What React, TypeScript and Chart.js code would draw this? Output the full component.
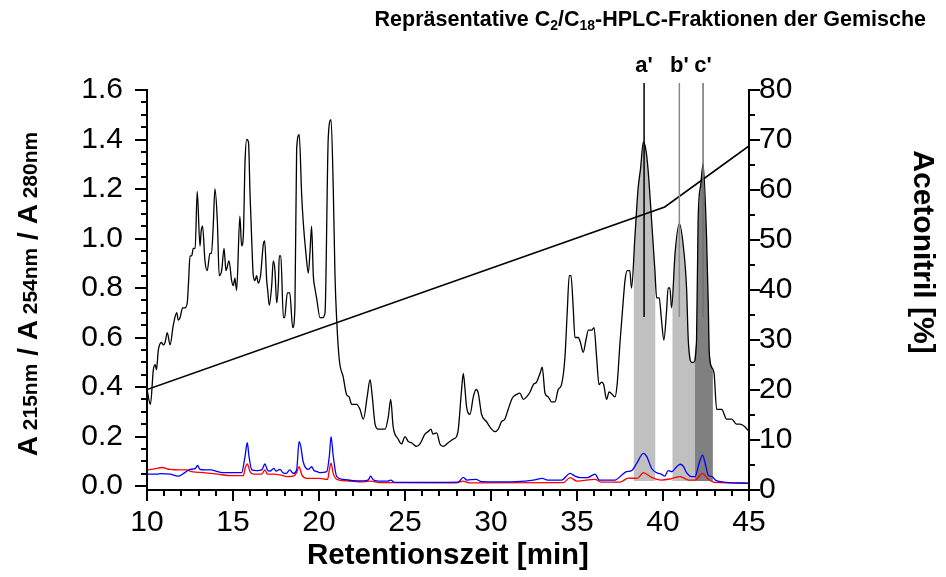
import React, { useEffect, useRef } from 'react';
import { Chart, registerables } from 'chart.js';

Chart.register(...registerables);

// ---------- data ----------
const xTickValues = [10, 15, 20, 25, 30, 35, 40, 45];
const yTickValues = [0, 0.2, 0.4, 0.6, 0.8, 1.0, 1.2, 1.4, 1.6];
const y2TickValues = [0, 10, 20, 30, 40, 50, 60, 70, 80];

// A215 (black) [time min, absorbance]
const a215: [number, number][] = [
  [10.0, 0.39], [10.2, 0.33], [10.37, 0.47], [10.48, 0.49], [10.55, 0.47], [10.66, 0.55], [10.85, 0.58],
  [10.95, 0.57], [11.05, 0.58], [11.18, 0.62], [11.34, 0.57], [11.53, 0.65], [11.73, 0.7], [11.82, 0.67],
  [11.92, 0.68], [12.07, 0.72], [12.2, 0.72], [12.34, 0.74], [12.42, 0.83], [12.5, 0.93], [12.6, 0.93],
  [12.69, 0.96], [12.8, 0.96], [12.92, 1.19], [13.08, 0.97], [13.15, 1.03], [13.23, 1.05], [13.37, 0.91],
  [13.5, 0.87], [13.66, 0.94], [13.75, 0.94], [13.85, 1.05], [13.95, 1.2], [14.09, 1.07], [14.2, 0.85],
  [14.34, 0.87], [14.48, 0.96], [14.59, 0.87], [14.77, 0.91], [14.92, 0.83], [15.02, 0.81], [15.11, 0.84],
  [15.21, 0.79], [15.4, 1.09], [15.5, 0.97], [15.6, 1.01], [15.7, 1.31], [15.8, 1.4], [15.9, 1.39],
  [15.99, 1.18], [16.09, 0.99], [16.18, 0.85], [16.28, 0.83], [16.37, 0.85], [16.47, 0.82], [16.6, 0.85],
  [16.77, 0.98], [16.84, 0.99], [16.96, 0.83], [17.02, 0.79], [17.11, 0.73], [17.25, 0.81], [17.34, 0.91],
  [17.44, 0.87], [17.54, 0.74], [17.64, 0.82], [17.69, 0.93], [17.78, 0.93], [17.93, 0.68], [18.0, 0.68],
  [18.16, 0.78], [18.3, 0.78], [18.47, 0.64], [18.6, 0.72], [18.7, 1.36], [18.85, 1.42], [18.99, 1.18],
  [19.08, 1.07], [19.24, 0.94], [19.38, 0.86], [19.48, 0.95], [19.57, 1.05], [19.67, 0.85], [19.76, 0.8],
  [19.86, 0.76], [20.06, 0.68], [20.2, 0.68], [20.35, 0.7], [20.54, 1.41], [20.7, 1.48], [20.83, 1.2],
  [20.93, 0.85], [21.03, 0.67], [21.18, 0.51], [21.41, 0.44], [21.6, 0.37], [21.75, 0.36], [21.9, 0.33],
  [22.19, 0.33], [22.38, 0.31], [22.58, 0.27], [22.8, 0.36], [22.97, 0.43], [23.1, 0.36], [23.26, 0.25],
  [23.44, 0.23], [23.84, 0.23], [24.03, 0.28], [24.17, 0.35], [24.31, 0.24], [24.6, 0.19], [24.8, 0.17],
  [25.0, 0.2], [25.19, 0.18], [25.38, 0.175], [25.68, 0.16], [25.87, 0.17], [26.16, 0.21], [26.35, 0.22],
  [26.51, 0.23], [26.62, 0.21], [26.84, 0.215], [27.03, 0.17], [27.22, 0.16], [27.51, 0.175], [27.81, 0.19],
  [28.0, 0.2], [28.1, 0.23], [28.29, 0.39], [28.39, 0.455], [28.49, 0.39], [28.58, 0.32], [28.78, 0.29],
  [28.97, 0.36], [29.13, 0.39], [29.26, 0.375], [29.45, 0.29], [29.74, 0.26], [30.03, 0.23], [30.23, 0.22],
  [30.42, 0.23], [30.61, 0.26], [30.8, 0.27], [31.0, 0.31], [31.2, 0.35], [31.29, 0.36], [31.49, 0.37],
  [31.68, 0.375], [31.88, 0.35], [32.07, 0.36], [32.27, 0.38], [32.46, 0.41], [32.65, 0.42], [32.85, 0.455],
  [32.98, 0.48], [33.14, 0.375], [33.33, 0.36], [33.52, 0.34], [33.72, 0.34], [33.91, 0.39], [34.1, 0.41],
  [34.3, 0.52], [34.43, 0.7], [34.55, 0.85], [34.65, 0.85], [34.78, 0.72], [34.88, 0.6], [35.07, 0.6],
  [35.2, 0.58], [35.36, 0.54], [35.52, 0.59], [35.66, 0.63], [35.85, 0.63], [35.99, 0.64], [36.14, 0.52],
  [36.28, 0.41], [36.43, 0.42], [36.55, 0.41], [36.72, 0.35], [36.87, 0.38], [37.05, 0.37], [37.21, 0.36],
  [37.34, 0.415], [37.5, 0.58], [37.69, 0.75], [37.79, 0.83], [37.92, 0.87], [38.07, 0.87], [38.17, 0.8],
  [38.37, 1.01], [38.55, 1.2], [38.69, 1.28], [38.86, 1.39], [39.0, 1.36], [39.13, 1.28], [39.34, 1.07],
  [39.53, 0.87], [39.63, 0.76], [39.78, 0.76], [39.9, 0.68], [40.05, 0.59], [40.2, 0.7], [40.3, 0.8],
  [40.4, 0.8], [40.5, 0.72], [40.7, 0.94], [40.95, 1.06], [41.18, 0.97], [41.37, 0.8], [41.47, 0.59],
  [41.66, 0.5], [41.78, 0.5], [41.95, 0.59], [42.04, 1.07], [42.2, 1.22], [42.33, 1.3], [42.53, 1.01],
  [42.63, 0.74], [42.69, 0.54], [42.83, 0.48], [42.97, 0.455], [43.12, 0.31], [43.31, 0.31], [43.41, 0.31],
  [43.7, 0.27], [44.0, 0.27], [44.27, 0.25], [44.47, 0.25], [44.76, 0.24], [45.0, 0.22],
];

// A254 (blue)
const a254: [number, number][] = [
  [10.0, 0.048], [10.58, 0.048], [10.8, 0.05], [11.34, 0.048], [11.82, 0.04], [12.2, 0.054], [12.5, 0.067],
  [12.8, 0.07], [12.94, 0.083], [13.08, 0.067], [13.37, 0.065], [13.75, 0.065], [14.0, 0.06], [14.4, 0.054],
  [15.2, 0.054], [15.5, 0.054], [15.7, 0.12], [15.83, 0.175], [15.93, 0.12], [16.09, 0.065], [16.4, 0.062],
  [16.67, 0.065], [16.86, 0.089], [17.0, 0.065], [17.15, 0.06], [17.38, 0.071], [17.5, 0.06], [17.73, 0.067],
  [17.9, 0.054], [18.1, 0.051], [18.3, 0.065], [18.5, 0.051], [18.7, 0.065], [18.84, 0.179], [18.94, 0.16],
  [19.08, 0.098], [19.38, 0.067], [19.57, 0.078], [19.71, 0.063], [19.9, 0.058], [20.06, 0.054], [20.45, 0.058],
  [20.6, 0.12], [20.7, 0.2], [20.83, 0.12], [21.03, 0.038], [21.41, 0.027], [22.19, 0.021], [22.58, 0.021],
  [22.87, 0.025], [23.0, 0.04], [23.15, 0.025], [23.44, 0.02], [24.0, 0.02], [24.17, 0.024], [24.4, 0.015],
  [25.5, 0.015], [26.5, 0.015], [28.1, 0.016], [28.39, 0.035], [28.6, 0.024], [29.13, 0.027], [29.45, 0.018],
  [30.5, 0.017], [31.5, 0.018], [32.46, 0.024], [32.98, 0.031], [33.3, 0.024], [34.1, 0.024], [34.6, 0.051],
  [34.88, 0.04], [35.2, 0.034], [35.6, 0.034], [36.05, 0.048], [36.3, 0.024], [37.21, 0.024], [37.6, 0.044],
  [37.87, 0.058], [38.17, 0.062], [38.47, 0.092], [38.86, 0.132], [39.05, 0.12], [39.34, 0.071], [39.63, 0.054],
  [39.9, 0.048], [40.1, 0.04], [40.3, 0.062], [40.5, 0.058], [40.8, 0.078], [41.0, 0.088], [41.18, 0.08],
  [41.37, 0.054], [41.66, 0.038], [41.86, 0.038], [42.1, 0.092], [42.3, 0.125], [42.45, 0.092], [42.63, 0.044],
  [42.86, 0.038], [43.05, 0.024], [43.44, 0.017], [45.0, 0.011],
];

// A280 (red)
const a280: [number, number][] = [
  [10.0, 0.065], [10.5, 0.07], [10.85, 0.075], [11.34, 0.067], [11.92, 0.065], [12.3, 0.065], [12.6, 0.058],
  [13.3, 0.054], [14.1, 0.048], [14.9, 0.042], [15.6, 0.042], [15.7, 0.071], [15.83, 0.089], [15.99, 0.058],
  [16.18, 0.048], [16.67, 0.048], [16.86, 0.065], [17.0, 0.048], [17.4, 0.048], [17.73, 0.045], [18.16, 0.038],
  [18.5, 0.04], [18.7, 0.054], [18.84, 0.078], [19.0, 0.045], [19.3, 0.031], [20.0, 0.031], [20.5, 0.027],
  [20.6, 0.065], [20.7, 0.092], [20.83, 0.05], [21.03, 0.027], [21.6, 0.021], [22.6, 0.017], [23.0, 0.02],
  [23.5, 0.014], [28.0, 0.013], [28.39, 0.02], [28.7, 0.013], [34.2, 0.014], [34.6, 0.034], [35.0, 0.02],
  [36.05, 0.027], [36.4, 0.016], [37.5, 0.016], [37.98, 0.032], [38.5, 0.031], [38.86, 0.054], [39.3, 0.036],
  [39.9, 0.024], [40.5, 0.03], [41.0, 0.038], [41.5, 0.024], [41.86, 0.024], [42.3, 0.051], [42.6, 0.03],
  [43.0, 0.015], [45.0, 0.012],
];

// Acetonitrile gradient [time min, %]
const acetonitrile: [number, number][] = [[10, 20.1], [40.1, 56.6], [45, 68.8]];

// collected fractions (time ranges)
const fractionStart = [38.3, 40.55, 41.85];
const fractionEnd = [39.55, 41.85, 42.9];
const fractionFloor = 0.02;

// fraction markers a', b', c'
const markerLabels = ["a'", "b'", "c'"];
const markerTimes = [38.9, 40.95, 42.33];
const markerTop = 1.628;
const markerBottom = 0.683;

// ---------- styles ----------
const FONT = '"Liberation Sans", Arial, Helvetica, sans-serif';
const fractionColors = ['#c0c0c0', '#c0c0c0', '#808080'];
const markerColors = ['#000000', '#8a8a8a', '#707070'];

const toXY = (arr: [number, number][]) => arr.map(([x, y]) => ({ x, y }));

const drawRich = (
  ctx: CanvasRenderingContext2D,
  parts: { t: string; size: number; dy?: number }[],
  startX: number,
) => {
  let x = startX;
  for (const p of parts) {
    ctx.font = `bold ${p.size}px ${FONT}`;
    ctx.fillText(p.t, x, p.dy || 0);
    x += ctx.measureText(p.t).width;
  }
};
const richWidth = (ctx: CanvasRenderingContext2D, parts: { t: string; size: number }[]) => {
  let w = 0;
  for (const p of parts) {
    ctx.font = `bold ${p.size}px ${FONT}`;
    w += ctx.measureText(p.t).width;
  }
  return w;
};

const fractionPlugin = {
  id: 'fractions',
  beforeDatasetsDraw(chart: any) {
    const { ctx, chartArea, scales } = chart;
    const xs = scales.x;
    const ys = scales.y;
    const pts = chart.getDatasetMeta(0).data;
    const floorY = ys.getPixelForValue(fractionFloor);
    fractionStart.forEach((s, i) => {
      const x1 = xs.getPixelForValue(s);
      const x2 = xs.getPixelForValue(fractionEnd[i]);
      ctx.save();
      ctx.beginPath();
      ctx.rect(x1, chartArea.top - 50, x2 - x1, floorY - chartArea.top + 50);
      ctx.clip();
      ctx.beginPath();
      ctx.moveTo(pts[0].x, floorY);
      for (const p of pts) ctx.lineTo(p.x, p.y);
      ctx.lineTo(pts[pts.length - 1].x, floorY);
      ctx.closePath();
      ctx.fillStyle = fractionColors[i];
      ctx.fill();
      ctx.restore();
    });
  },
};

const decorPlugin = {
  id: 'decor',
  afterDraw(chart: any) {
    const { ctx, chartArea, scales } = chart;
    const xs = scales.x;
    const ys = scales.y;
    const ys2 = scales.y2;
    const { left, right, top, bottom } = chartArea;
    ctx.save();
    ctx.strokeStyle = '#000';
    ctx.fillStyle = '#000';
    ctx.lineWidth = 2;
    ctx.lineCap = 'butt';
    // axis lines
    ctx.beginPath();
    ctx.moveTo(left, top - 1);
    ctx.lineTo(left, bottom);
    ctx.lineTo(right, bottom);
    ctx.moveTo(right, top - 1);
    ctx.lineTo(right, bottom + 1);
    ctx.stroke();
    // left ticks
    ctx.beginPath();
    for (let v = 0; v <= 1.6001; v += 0.05) {
      const y = Math.round(ys.getPixelForValue(v));
      const major = Math.abs(v / 0.2 - Math.round(v / 0.2)) < 1e-6;
      ctx.moveTo(left, y);
      ctx.lineTo(left - (major ? 12 : 6), y);
    }
    // right ticks
    for (let v = 0; v <= 80; v += 5) {
      const y = Math.round(ys2.getPixelForValue(v));
      const major = v % 10 === 0;
      ctx.moveTo(right, y);
      ctx.lineTo(right + (major ? 11 : 6), y);
    }
    // bottom ticks
    for (let v = 10; v <= 45; v += 1) {
      const x = Math.round(xs.getPixelForValue(v));
      const major = v % 5 === 0;
      ctx.moveTo(x, bottom);
      ctx.lineTo(x, bottom + (major ? 11 : 6));
    }
    ctx.stroke();

    // fraction marker lines + labels
    markerTimes.forEach((t, i) => {
      const x = xs.getPixelForValue(t);
      ctx.beginPath();
      ctx.strokeStyle = markerColors[i];
      ctx.lineWidth = 1.5;
      ctx.moveTo(x, ys.getPixelForValue(markerTop));
      ctx.lineTo(x, ys.getPixelForValue(markerBottom));
      ctx.stroke();
      ctx.font = `bold 22px ${FONT}`;
      ctx.textAlign = 'center';
      ctx.textBaseline = 'alphabetic';
      ctx.fillStyle = '#000';
      ctx.fillText(markerLabels[i], x, 72);
    });

    ctx.textAlign = 'left';
    ctx.textBaseline = 'alphabetic';
    ctx.fillStyle = '#000';

    // title with subscripts
    const T = 21.5;
    const titleParts = [
      { t: 'Repräsentative C', size: T },
      { t: '2', size: 14, dy: 4 },
      { t: '/C', size: T },
      { t: '18', size: 14, dy: 4 },
      { t: '-HPLC-Fraktionen der Gemische', size: T },
    ];
    const tw = richWidth(ctx, titleParts);
    ctx.save();
    ctx.translate(926 - tw, 26);
    drawRich(ctx, titleParts, 0);
    ctx.restore();

    // x title
    ctx.font = `bold 29.5px ${FONT}`;
    ctx.textAlign = 'center';
    ctx.fillText('Retentionszeit [min]', (left + right) / 2, 564);
    ctx.textAlign = 'left';

    // left y title (rotated)
    const yParts = [
      { t: 'A', size: 28 },
      { t: ' 215nm', size: 21 },
      { t: ' / A', size: 28 },
      { t: ' 254nm', size: 21 },
      { t: ' / A', size: 28 },
      { t: ' 280nm', size: 21 },
    ];
    const yw = richWidth(ctx, yParts);
    ctx.save();
    ctx.translate(37, 294);
    ctx.rotate(-Math.PI / 2);
    drawRich(ctx, yParts, -yw / 2);
    ctx.restore();

    // right y title (rotated)
    ctx.save();
    ctx.translate(914, 252);
    ctx.rotate(Math.PI / 2);
    ctx.font = `bold 30px ${FONT}`;
    ctx.textAlign = 'center';
    ctx.fillText('Acetonitril [%]', 0, 0);
    ctx.restore();

    ctx.restore();
  },
};

export default function App() {
  const ref = useRef<HTMLCanvasElement>(null);
  useEffect(() => {
    if (!ref.current) return;
    const tickFont = { family: FONT, size: 30 };
    const noGrid = { display: false, drawTicks: false, tickLength: 0 };
    const chart = new Chart(ref.current, {
      type: 'line',
      data: {
        datasets: [
          {
            label: 'A215',
            data: toXY(a215),
            borderColor: '#000',
            borderWidth: 1.3,
            pointRadius: 0,
            cubicInterpolationMode: 'monotone',
            yAxisID: 'y',
          },
          {
            label: 'A254',
            data: toXY(a254),
            borderColor: '#0000ff',
            borderWidth: 1.3,
            pointRadius: 0,
            cubicInterpolationMode: 'monotone',
            yAxisID: 'y',
          },
          {
            label: 'A280',
            data: toXY(a280),
            borderColor: '#ff0000',
            borderWidth: 1.3,
            pointRadius: 0,
            cubicInterpolationMode: 'monotone',
            yAxisID: 'y',
          },
          {
            label: 'Acetonitril',
            data: toXY(acetonitrile),
            borderColor: '#000',
            borderWidth: 1.6,
            pointRadius: 0,
            tension: 0,
            yAxisID: 'y2',
          },
        ],
      },
      options: {
        animation: false,
        responsive: false,
        devicePixelRatio: 1,
        layout: { padding: { top: 90, left: 0, right: 0, bottom: 0 } },
        plugins: { legend: { display: false }, title: { display: false }, tooltip: { enabled: false } },
        scales: {
          x: {
            type: 'linear',
            min: 10,
            max: 45,
            grid: noGrid,
            border: { display: false },
            afterBuildTicks: (s: any) => {
              s.ticks = xTickValues.map((value) => ({ value }));
            },
            afterFit: (s: any) => {
              s.height = 87;
            },
            ticks: {
              color: '#000',
              font: tickFont,
              padding: 15,
              maxRotation: 0,
              autoSkip: false,
              callback: (v: any) => String(v),
            },
          },
          y: {
            type: 'linear',
            position: 'left',
            min: -0.016,
            max: 1.6,
            grid: noGrid,
            border: { display: false },
            afterBuildTicks: (s: any) => {
              s.ticks = yTickValues.map((value) => ({ value }));
            },
            afterFit: (s: any) => {
              s.width = 147;
            },
            ticks: {
              color: '#000',
              font: tickFont,
              padding: 24,
              autoSkip: false,
              callback: (v: any) => Number(v).toFixed(1),
            },
          },
          y2: {
            type: 'linear',
            position: 'right',
            min: 0,
            max: 80,
            grid: noGrid,
            border: { display: false },
            afterBuildTicks: (s: any) => {
              s.ticks = y2TickValues.map((value) => ({ value }));
            },
            afterFit: (s: any) => {
              s.width = 197;
            },
            ticks: {
              color: '#000',
              font: tickFont,
              padding: 10,
              autoSkip: false,
              callback: (v: any) => String(v),
            },
          },
        },
      },
      plugins: [fractionPlugin, decorPlugin],
    } as any);
    return () => chart.destroy();
  }, []);
  return (
    <div style={{ position: 'fixed', left: 0, top: 0, width: 946, height: 577, background: '#fff' }}>
      <canvas ref={ref} width={946} height={577} style={{ display: 'block', width: 946, height: 577 }} />
    </div>
  );
}
